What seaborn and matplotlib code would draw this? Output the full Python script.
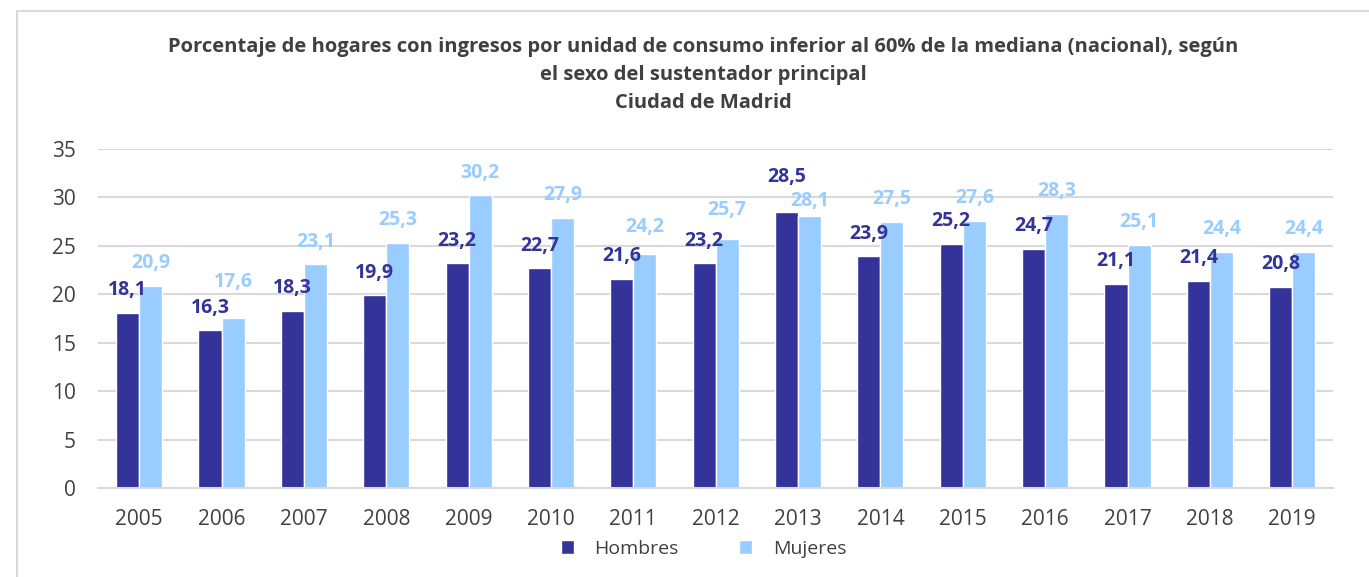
import pandas as pd
import matplotlib.pyplot as plt
import seaborn as sns
from matplotlib.lines import Line2D
from matplotlib.patches import Patch

# Values
years = ["2005", "2006", "2007", "2008", "2009", "2010", "2011", "2012",
         "2013", "2014", "2015", "2016", "2017", "2018", "2019"]
hombres = [18.1, 16.3, 18.3, 19.9, 23.2, 22.7, 21.6, 23.2, 28.5, 23.9, 25.2, 24.7, 21.1, 21.4, 20.8]
mujeres = [20.9, 17.6, 23.1, 25.3, 30.2, 27.9, 24.2, 25.7, 28.1, 27.5, 27.6, 28.3, 25.1, 24.4, 24.4]
series = ["Hombres", "Mujeres"]
colors = ["#333399", "#99CCFF"]

# small manual nudges (points) of some labels, as in the original chart
nudges = {("Hombres", "2013"): 8.6, ("Mujeres", "2006"): 9.4, ("Mujeres", "2011"): 3,
          ("Mujeres", "2012"): 5, ("Mujeres", "2013"): -5.8}

data = pd.DataFrame({
    "year": years * 2,
    "value": hombres + mujeres,
    "sexo": [series[0]] * len(years) + [series[1]] * len(years),
})

sns.set_style("white")
plt.rcParams["font.family"] = ["Open Sans", "DejaVu Sans"]

fig = plt.figure(figsize=(13.69, 5.77), dpi=100)
ax = fig.add_axes([0.0716, 0.154, 0.9024, 0.588])

sns.barplot(data=data, x="year", y="value", hue="sexo", palette=colors,
            width=0.56, gap=0, saturation=1, ax=ax, legend=False)

pad = 9
for cont, col, name in zip(ax.containers, colors, series):
    anns = ax.bar_label(cont, labels=[f"{v:.1f}".replace(".", ",") for v in cont.datavalues],
                        padding=pad, color=col, fontsize=14, fontweight="bold")
    for ann, yr in zip(anns, years):
        extra = nudges.get((name, yr), 0)
        if extra:
            ann.xyann = (0, pad + extra)

ax.set_ylim(0, 35)
ax.set_yticks(range(0, 36, 5))
ax.set_xlim(-0.5, len(years) - 0.5)
ax.grid(axis="y", color="#D9D9D9", linewidth=1.5)
ax.set_axisbelow(True)
for s in ["top", "right", "left"]:
    ax.spines[s].set_visible(False)
ax.spines["bottom"].set_color("#D9D9D9")
ax.spines["bottom"].set_linewidth(1.5)
ax.tick_params(axis="both", length=0, labelsize=15, labelcolor="#404040")
ax.tick_params(axis="y", pad=16)
ax.tick_params(axis="x", pad=15)
ax.set_xlabel("")
ax.set_ylabel("")

fig.text(0.514, 0.870,
         "Porcentaje de hogares con ingresos por unidad de consumo inferior al 60% de la mediana (nacional), según\n"
         "el sexo del sustentador principal\nCiudad de Madrid",
         ha="center", va="center", fontsize=14.5, fontweight="bold", color="#404040", linespacing=1.55)

handles = [Patch(facecolor=c, label=l) for c, l in zip(colors, series)]
fig.legend(handles=handles, loc="center", bbox_to_anchor=(0.514, 0.049), ncol=2, frameon=False,
           fontsize=14, labelcolor="#404040", handlelength=0.68, handleheight=0.68,
           handletextpad=1.05, columnspacing=3.1)

# chart area border
fig.add_artist(Line2D([0.0124, 1.0], [0.981, 0.981], color="#D9D9D9", linewidth=1.5))
fig.add_artist(Line2D([0.0124, 0.0124], [0.0, 0.981], color="#D9D9D9", linewidth=1.5))

fig.savefig("out.png", dpi=100)
